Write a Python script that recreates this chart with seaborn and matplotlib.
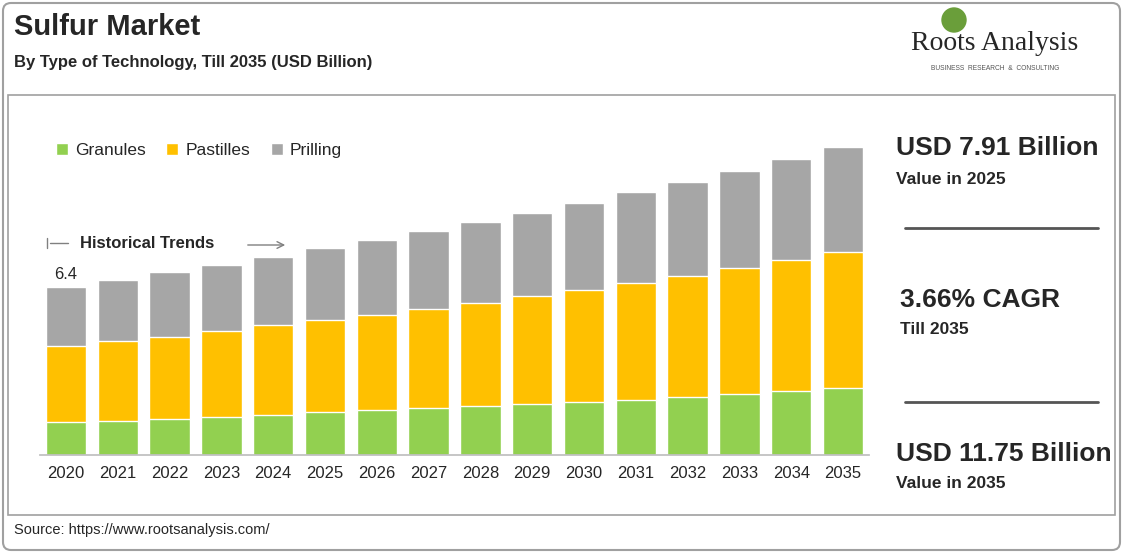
import numpy as np
import pandas as pd
import matplotlib.pyplot as plt
import seaborn as sns
from matplotlib.patches import FancyBboxPatch, Rectangle

sns.set_theme(style="white")
plt.rcParams["font.family"] = ["Liberation Sans", "DejaVu Sans"]

years = [str(y) for y in range(2020, 2036)]
granules = [1.26, 1.30, 1.37, 1.45, 1.52, 1.64, 1.71, 1.79, 1.87, 1.94, 2.02, 2.10, 2.21, 2.32, 2.44, 2.55]
pastilles = [2.90, 3.05, 3.12, 3.28, 3.43, 3.50, 3.62, 3.77, 3.92, 4.11, 4.27, 4.46, 4.61, 4.80, 4.99, 5.18]
prilling = [2.25, 2.32, 2.48, 2.51, 2.59, 2.74, 2.86, 2.97, 3.09, 3.16, 3.31, 3.47, 3.58, 3.70, 3.85, 4.00]

df = pd.DataFrame({"year": years, "Granules": granules, "Pastilles": pastilles, "Prilling": prilling})
df["g_p"] = df["Granules"] + df["Pastilles"]
df["total"] = df["g_p"] + df["Prilling"]

W, H = 1123, 553
fig = plt.figure(figsize=(W / 100, H / 100), dpi=100)

# frames
bg = fig.add_axes([0, 0, 1, 1])
bg.set_xlim(0, W)
bg.set_ylim(H, 0)
bg.axis("off")
bg.add_patch(FancyBboxPatch((3, 3), W - 6, H - 6, boxstyle="round,pad=0,rounding_size=8",
                            fill=False, ec="#A0A0A0", lw=1.5))
bg.add_patch(Rectangle((8, 95), W - 16, 420, fill=False, ec="#A0A0A0", lw=1.2))

bg.text(14, 27, "Sulfur Market", fontsize=21, fontweight="bold", va="center")
bg.text(14, 62, "By Type of Technology, Till 2035 (USD Billion)", fontsize=12, fontweight="bold", va="center")
bg.text(14, 530, "Source: https://www.rootsanalysis.com/", fontsize=10.5, va="center")

# logo
bg.add_patch(plt.Circle((954, 20), 12, color="#6A9E3A"))
bg.text(995, 44, "Roots Analysis", fontsize=20, family="Liberation Serif", ha="center", va="center")
bg.text(995, 68, "BUSINESS  RESEARCH  &  CONSULTING", fontsize=4.8, ha="center", va="center", color="#555555")

# right panel
bg.text(896, 148, "USD 7.91 Billion", fontsize=19, fontweight="bold", va="center")
bg.text(896, 179, "Value in 2025", fontsize=12.5, fontweight="bold", va="center")
bg.plot([905, 1098], [228, 228], color="#555555", lw=2)
bg.text(900, 300, "3.66% CAGR", fontsize=19, fontweight="bold", va="center")
bg.text(900, 330, "Till 2035", fontsize=12.5, fontweight="bold", va="center")
bg.plot([905, 1098], [402, 402], color="#555555", lw=2)
bg.text(896, 454, "USD 11.75 Billion", fontsize=19, fontweight="bold", va="center")
bg.text(896, 483, "Value in 2035", fontsize=12.5, fontweight="bold", va="center")

# chart
ax = fig.add_axes([40 / W, (H - 455) / H, 829 / W, 328 / H])
sns.barplot(data=df, x="year", y="total", color="#A6A6A6", width=0.78, saturation=1, ax=ax, label="Prilling")
sns.barplot(data=df, x="year", y="g_p", color="#FFC000", width=0.78, saturation=1, ax=ax, label="Pastilles")
sns.barplot(data=df, x="year", y="Granules", color="#92D050", width=0.78, saturation=1, ax=ax, label="Granules")
ax.set_xlim(-0.5, len(years) - 0.5)
ax.set_ylim(0, 12.5)
ax.set_xlabel("")
ax.set_ylabel("")
ax.set_yticks([])
ax.patch.set_alpha(0)
for s in ["top", "right", "left"]:
    ax.spines[s].set_visible(False)
ax.spines["bottom"].set_color("#BFBFBF")
ax.tick_params(axis="x", labelsize=12, length=0, pad=8)

ax.text(0, df["total"][0] + 0.2, "6.4", ha="center", va="bottom", fontsize=12)

h, l = ax.get_legend_handles_labels()
order = [2, 1, 0]
ax.legend([h[i] for i in order], [l[i] for i in order], loc="upper left", bbox_to_anchor=(0.0, 1.0),
          ncol=3, frameon=False, fontsize=12.5, handlelength=0.7, handleheight=0.7, columnspacing=1.2,
          handletextpad=0.4)

# historical trends annotation
bg.plot([47, 47], [238, 248], color="#808080", lw=1)
bg.plot([50, 68], [243, 243], color="#808080", lw=1)
bg.text(80, 243, "Historical Trends", fontsize=12, fontweight="bold", va="center")
bg.annotate("", xy=(288, 245), xytext=(245, 245),
            arrowprops=dict(arrowstyle="->", color="#808080", lw=1))

fig.savefig("out.png", dpi=100)
